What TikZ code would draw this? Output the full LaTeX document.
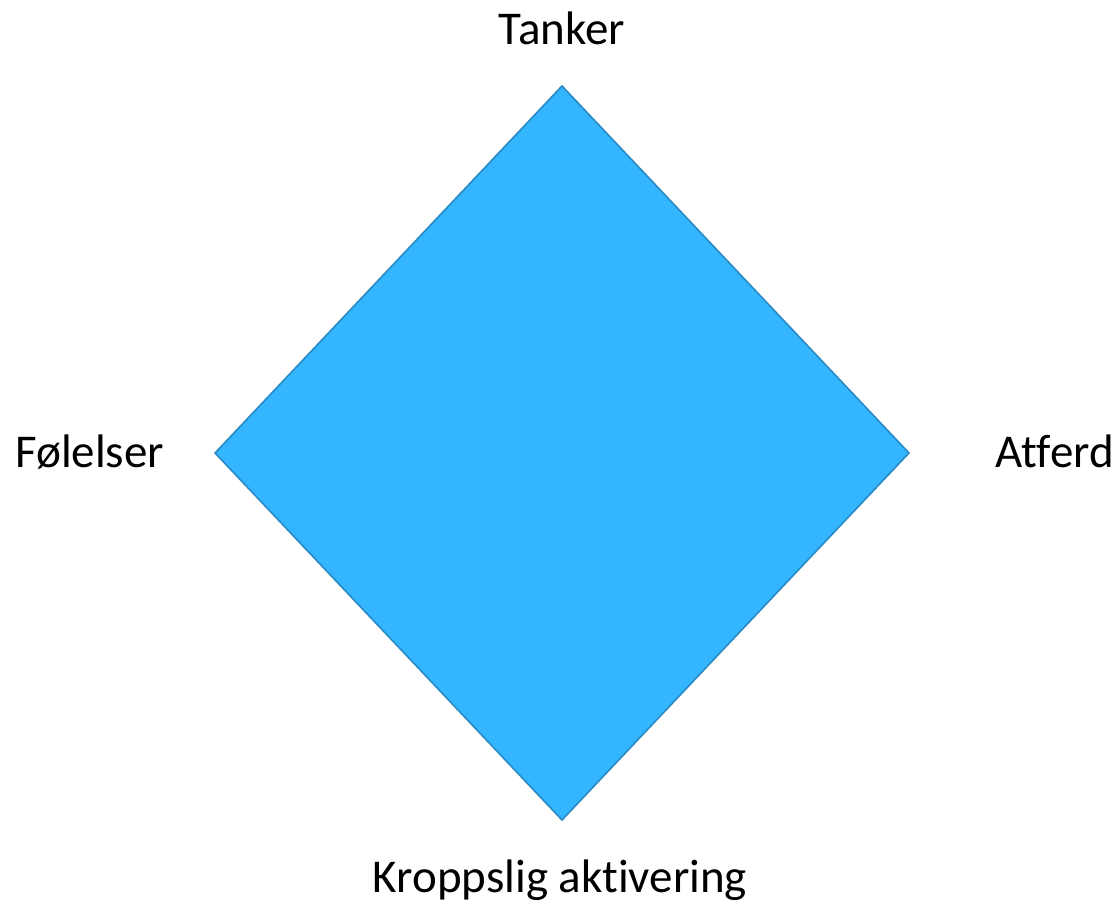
\documentclass[tikz,border=0pt]{standalone}
\usepackage{fontspec}
\setmainfont{Carlito}[Ligatures=NoCommon]
\usepackage{xcolor}
\definecolor{rutefyll}{HTML}{33B5FF}
\definecolor{rutekant}{HTML}{2A8AC4}

\begin{document}
\begin{tikzpicture}[x=1pt,y=-1pt,
    etikett/.style={inner sep=0pt, font=\fontsize{47}{54}\selectfont}]
  \useasboundingbox (0,0) rectangle (1119,904);
   \coordinate (topp) at (562,86);
   \coordinate (venstre) at (215,453);
   \coordinate (hoyre) at (909,453);
   \coordinate (bunn) at (562,820);
  \draw[rutekant, fill=rutefyll, line width=1.6pt] (topp) -- (hoyre) -- (bunn) -- (venstre) -- cycle;
  \node[etikett, anchor=base] (tanker) at (562,45) {Tanker};
  \node[etikett, anchor=base west] (folelser) at (15,467) {Følelser};
  \node[etikett, anchor=base west] (atferd) at (995,467) {Atferd};
  \node[etikett, anchor=base] (kropp) at (560,892) {Kroppslig aktivering};
\end{tikzpicture}
\end{document}
